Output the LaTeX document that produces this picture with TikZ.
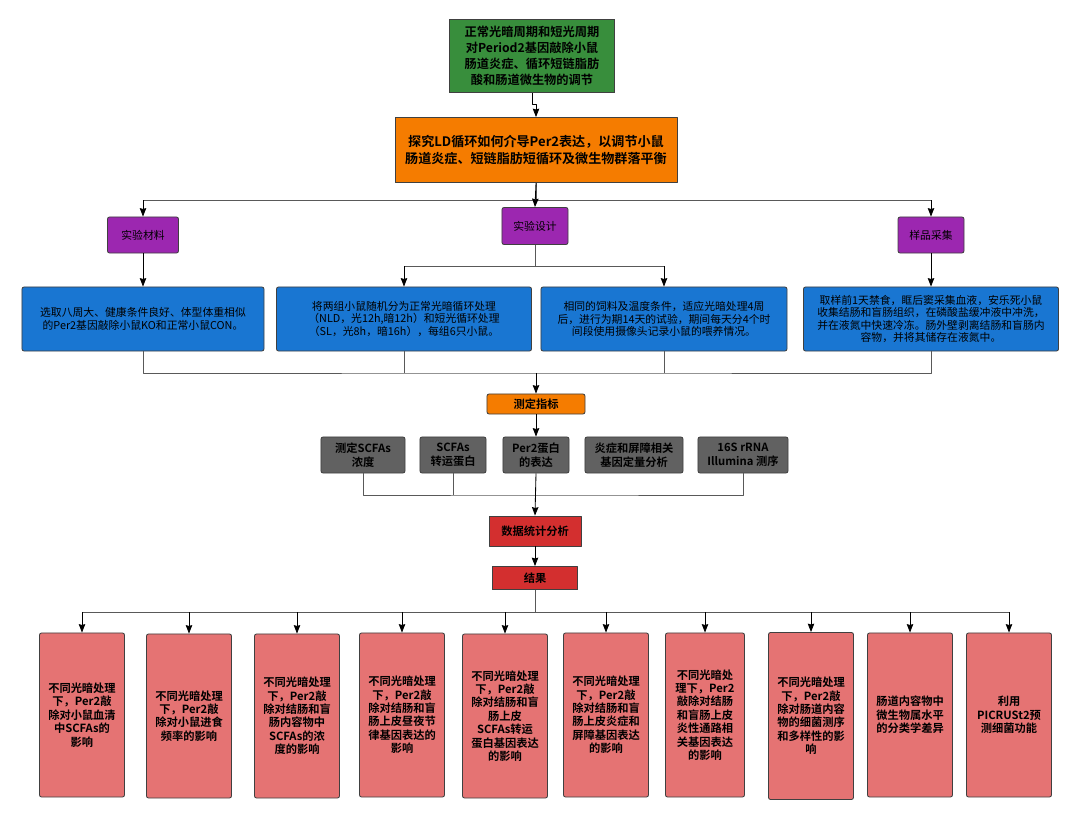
\documentclass[tikz,border=0pt]{standalone}
\usepackage{fontspec}
\setmainfont{Noto Sans CJK SC}[BoldFont={Noto Sans CJK SC Bold}]
\usetikzlibrary{arrows.meta}
\definecolor{titlegreen}{HTML}{388E3C}
\definecolor{aimorange}{HTML}{F57C00}
\definecolor{steppurple}{HTML}{9C27B0}
\definecolor{detailblue}{HTML}{1976D2}
\definecolor{indexgrey}{HTML}{616161}
\definecolor{statred}{HTML}{D32F2F}
\definecolor{resultpink}{HTML}{E57373}
\begin{document}
\begin{tikzpicture}[x=0.025cm, y=-0.025cm, line join=round, >={Stealth[length=6pt,width=4.6pt,inset=0.6pt]},
	box/.style={draw=black!75, line width=0.6pt, align=center, inner sep=1pt, text=black},
	rbox/.style={box, rounded corners=1.5pt},
	link/.style={draw=black!65, line width=0.6pt},
	arr/.style={->, draw=black, line width=0.6pt},
	blue/.style={rbox, fill=detailblue, minimum height=1.6cm, font=\fontsize{7.7}{9}\selectfont},
	grey/.style={rbox, fill=indexgrey, minimum height=0.9cm, font=\fontsize{8}{10}\selectfont\bfseries},
	pink/.style={rbox, fill=resultpink, minimum width=2.125cm, minimum height=4.1cm, font=\fontsize{8}{9.5}\selectfont\bfseries},
	purple/.style={rbox, fill=steppurple, minimum height=0.9cm, font=\fontsize{7.7}{9}\selectfont}]
\useasboundingbox (0,0) rectangle (1080,821);
\node[box, fill=titlegreen, minimum width=4.125cm, minimum height=1.825cm, font=\fontsize{8.7}{11.4}\selectfont\bfseries] (title) at (532,56) {正常光暗周期和短光周期\\对Period2基因敲除小鼠\\肠道炎症、循环短链脂肪\\酸和肠道微生物的调节};
\node[box, fill=aimorange, minimum width=7.05cm, minimum height=1.625cm, font=\fontsize{9.3}{11.8}\selectfont\bfseries] (aim) at (536,150) {探究LD循环如何介导Per2表达，以调节小鼠\\肠道炎症、短链脂肪短循环及微生物群落平衡};
\node[purple, minimum width=1.775cm] (mat) at (143,235) {实验材料};
\node[purple, minimum width=1.65cm, minimum height=0.925cm] (design) at (535,226) {实验设计};
\node[purple, minimum width=1.65cm] (sam) at (931,235) {样品采集};
\node[blue, minimum width=6.05cm] (blueA) at (143,319) {选取八周大、健康条件良好、体型体重相似\\的Per2基因敲除小鼠KO和正常小鼠CON。};
\node[blue, minimum width=6.375cm] (blueB) at (404,319) {将两组小鼠随机分为正常光暗循环处理\\（NLD，光12h,暗12h）和短光循环处理\\（SL，光8h，暗16h），每组6只小鼠。};
\node[blue, minimum width=6.15cm] (blueC) at (664,319) {相同的饲料及温度条件，适应光暗处理4周\\后，进行为期14天的试验，期间每天分4个时\\间段使用摄像头记录小鼠的喂养情况。};
\node[blue, minimum width=6.375cm] (blueD) at (931,319) {取样前1天禁食，眶后窦采集血液，安乐死小鼠\\收集结肠和盲肠组织，在磷酸盐缓冲液中冲洗，\\并在液氮中快速冷冻。肠外壁剥离结肠和盲肠内\\容物，并将其储存在液氮中。};
\node[rbox, fill=aimorange, minimum width=2.45cm, minimum height=0.5cm, font=\fontsize{8}{10}\selectfont\bfseries] (measure) at (536,404) {测定指标};
\node[grey, minimum width=2.1cm] (greyA) at (363,455) {测定SCFAs\\浓度};
\node[grey, minimum width=1.65cm] (greyB) at (453,455) {SCFAs\\转运蛋白};
\node[grey, minimum width=1.65cm] (greyC) at (536,455) {Per2蛋白\\的表达};
\node[grey, minimum width=2.45cm] (greyD) at (634,455) {炎症和屏障相关\\基因定量分析};
\node[grey, minimum width=2.25cm] (greyE) at (743,455) {16S rRNA\\Illumina 测序};
\node[box, fill=statred, minimum width=2.3cm, minimum height=0.75cm, font=\fontsize{8}{10}\selectfont\bfseries] (stats) at (535,531) {数据统计分析};
\node[box, fill=statred, minimum width=2.125cm, minimum height=0.575cm, font=\fontsize{8}{10}\selectfont\bfseries] (result) at (535,578) {结果};
\node[pink] (pinkA) at (82,715) {不同光暗处理\\下，Per2敲\\除对小鼠血清\\中SCFAs的\\影响};
\node[pink] (pinkB) at (189,716) {不同光暗处理\\下，Per2敲\\除对小鼠进食\\频率的影响};
\node[pink] (pinkC) at (297,716) {不同光暗处理\\下，Per2敲\\除对结肠和盲\\肠内容物中\\SCFAs的浓\\度的影响};
\node[pink] (pinkD) at (402,715) {不同光暗处理\\下，Per2敲\\除对结肠和盲\\肠上皮昼夜节\\律基因表达的\\影响};
\node[pink] (pinkE) at (505,716) {不同光暗处理\\下，Per2敲\\除对结肠和盲\\肠上皮\\SCFAs转运\\蛋白基因表达\\的影响};
\node[pink] (pinkF) at (606,715) {不同光暗处理\\下，Per2敲\\除对结肠和盲\\肠上皮炎症和\\屏障基因表达\\的影响};
\node[pink, minimum width=1.975cm] (pinkG) at (705,715) {不同光暗处\\理下，Per2\\敲除对结肠\\和盲肠上皮\\炎性通路相\\关基因表达\\的影响};
\node[pink, minimum height=4.175cm] (pinkH) at (811,716) {不同光暗处理\\下，Per2敲\\除对肠道内容\\物的细菌测序\\和多样性的影\\响};
\node[pink] (pinkI) at (910,715) {肠道内容物中\\微生物属水平\\的分类学差异};
\node[pink] (pinkJ) at (1009,715) {利用\\PICRUSt2预\\测细菌功能};
\coordinate (splitA) at (536,200);
\coordinate (splitB) at (535,266);
\coordinate (joinA) at (536,373);
\coordinate (joinB) at (536,495);
\coordinate (splitC) at (535,612);
\draw[arr] (title.south) -- ++(0,11) -| (aim.north);
\draw[link] (aim.south) -- (splitA);
\draw[link] (mat.north |- splitA) -- (sam.north |- splitA);
\draw[arr] (mat.north |- splitA) -- (mat.north);
\draw[arr] (aim.south) -- (design.north);
\draw[arr] (sam.north |- splitA) -- (sam.north);
\draw[link] (design.south) -- (splitB);
\draw[link] (blueB.north |- splitB) -- (blueC.north |- splitB);
\draw[arr] (blueB.north |- splitB) -- (blueB.north);
\draw[arr] (blueC.north |- splitB) -- (blueC.north);
\draw[arr] (mat.south) -- (blueA.north);
\draw[arr] (sam.south) -- (blueD.north);
\draw[link] (blueA.south) |- (joinA) -| (blueD.south);
\draw[link] (blueB.south) -- (blueB.south |- joinA);
\draw[link] (blueC.south) -- (blueC.south |- joinA);
\draw[arr] (joinA) -- (measure.north);
\draw[arr] (measure.south) -- (greyC.north);
\draw[link] (greyA.south) |- (joinB) -| (greyE.south);
\draw[link] (greyB.south) -- (greyB.south |- joinB);
\draw[arr] (greyC.south) -- (stats.north);
\draw[arr] (stats.south) -- (result.north);
\draw[link] (result.south) -- (splitC);
\draw[link] (pinkA.north |- splitC) -- (pinkJ.north |- splitC);
\foreach \p in {pinkA,pinkB,pinkC,pinkD,pinkE,pinkF,pinkG,pinkH,pinkI,pinkJ}
	\draw[arr] (\p.north |- splitC) -- (\p.north);
\end{tikzpicture}
\end{document}
